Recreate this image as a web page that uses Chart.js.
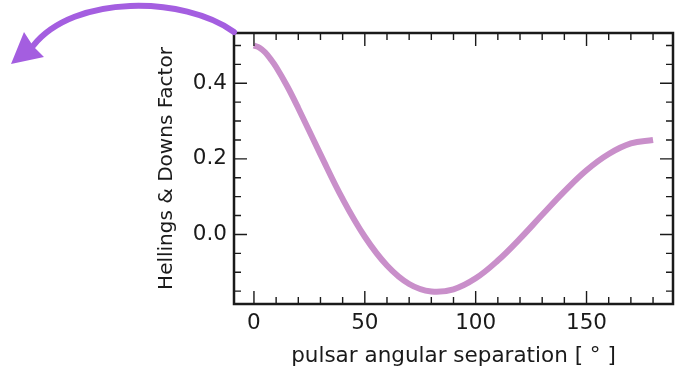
<!DOCTYPE html>
<html>
<head>
<meta charset="utf-8">
<script src="https://cdn.jsdelivr.net/npm/chart.js"></script>
<style>
  html, body { margin: 0; padding: 0; background: #fff; }
  #wrap { width: 678px; height: 374px; }
</style>
</head>
<body>
<div id="wrap"><canvas id="hd-chart" width="678" height="374"></canvas></div>
<script>
// angular separation (deg) and Hellings & Downs values
const separation = [0, 2.5, 5, 7.5, 10, 15, 20, 30, 40, 50, 60, 70, 80, 90, 100, 110, 120, 130, 140, 150, 160, 170, 180];
const hdFactor = [0.500, 0.494, 0.482, 0.464, 0.443, 0.392, 0.334, 0.212, 0.094, -0.006, -0.082, -0.131, -0.151,
                  -0.145, -0.116, -0.069, -0.011, 0.052, 0.114, 0.170, 0.213, 0.241, 0.250];
const xMajorTicks = [0, 50, 100, 150];
const yMajorTicks = [0.0, 0.2, 0.4];

const FONT = "'DejaVu Sans', sans-serif";
const INK = '#1a1a1a';

// inward ticks on all four sides + frame, matplotlib style
const frameTicks = {
    id: 'frameTicks',
    afterDatasetsDraw(chart) {
        const { ctx, chartArea: a, scales: { x, y } } = chart;
        ctx.save();
        ctx.strokeStyle = INK;
        ctx.lineWidth = 1.4;
        ctx.beginPath();
        for (let v = 0; v <= 180; v += 10) {
            const px = x.getPixelForValue(v);
            const len = v % 50 === 0 ? 13 : 7;
            ctx.moveTo(px, a.bottom); ctx.lineTo(px, a.bottom - len);
            ctx.moveTo(px, a.top); ctx.lineTo(px, a.top + len);
        }
        for (let i = -3; i <= 10; i++) {
            const py = y.getPixelForValue(i * 0.05);
            if (py < a.top || py > a.bottom) continue;
            const len = i % 4 === 0 ? 13 : 7;
            ctx.moveTo(a.left, py); ctx.lineTo(a.left + len, py);
            ctx.moveTo(a.right, py); ctx.lineTo(a.right - len, py);
        }
        ctx.stroke();
        ctx.lineWidth = 2.5;
        ctx.strokeRect(a.left, a.top, a.right - a.left, a.bottom - a.top);

        // curved arrow leaving the top-left corner
        const sx = a.left, sy = a.top - 1;
        ctx.strokeStyle = '#a45ee0';
        ctx.fillStyle = '#a45ee0';
        ctx.lineWidth = 6;
        ctx.lineCap = 'round';
        ctx.beginPath();
        ctx.moveTo(sx, sy);
        ctx.bezierCurveTo(sx - 50, sy - 36, sx - 160, sy - 38, 33, 46);
        ctx.stroke();
        ctx.beginPath();
        ctx.moveTo(11, 64);
        ctx.lineTo(24, 32);
        ctx.lineTo(33, 46);
        ctx.lineTo(44, 57);
        ctx.closePath();
        ctx.fill();
        ctx.restore();
    }
};

new Chart(document.getElementById('hd-chart'), {
    type: 'line',
    data: {
        datasets: [{
            data: separation.map((s, i) => ({ x: s, y: hdFactor[i] })),
            borderColor: '#c98fca',
            borderWidth: 6,
            pointRadius: 0,
            tension: 0.4,
            fill: false
        }]
    },
    options: {
        responsive: false,
        animation: false,
        layout: { padding: { top: 33, right: 5, left: 0, bottom: 0 } },
        plugins: { legend: { display: false }, tooltip: { enabled: false } },
        scales: {
            x: {
                type: 'linear',
                min: -9,
                max: 189,
                afterFit: (s) => { s.height = 70; },
                afterBuildTicks: (s) => { s.ticks = xMajorTicks.map(v => ({ value: v })); },
                grid: { display: false, drawTicks: false },
                border: { display: false },
                ticks: { color: INK, font: { family: FONT, size: 21.5 }, padding: 7, maxRotation: 0 },
                title: {
                    display: true,
                    text: 'pulsar angular separation [ ° ]',
                    color: INK,
                    font: { family: FONT, size: 21.5 },
                    padding: { top: 0, bottom: 5 }
                }
            },
            y: {
                type: 'linear',
                min: -0.184,
                max: 0.533,
                afterFit: (s) => { s.width = 234; },
                afterBuildTicks: (s) => { s.ticks = yMajorTicks.map(v => ({ value: v })); },
                grid: { display: false, drawTicks: false },
                border: { display: false },
                ticks: {
                    color: INK,
                    font: { family: FONT, size: 21.5 },
                    padding: 7,
                    callback: (v) => v.toFixed(1)
                },
                title: {
                    display: true,
                    text: 'Hellings & Downs Factor',
                    color: INK,
                    font: { family: FONT, size: 20 },
                    padding: { top: 155, bottom: 0 }
                }
            }
        }
    },
    plugins: [frameTicks]
});
</script>
</body>
</html>
